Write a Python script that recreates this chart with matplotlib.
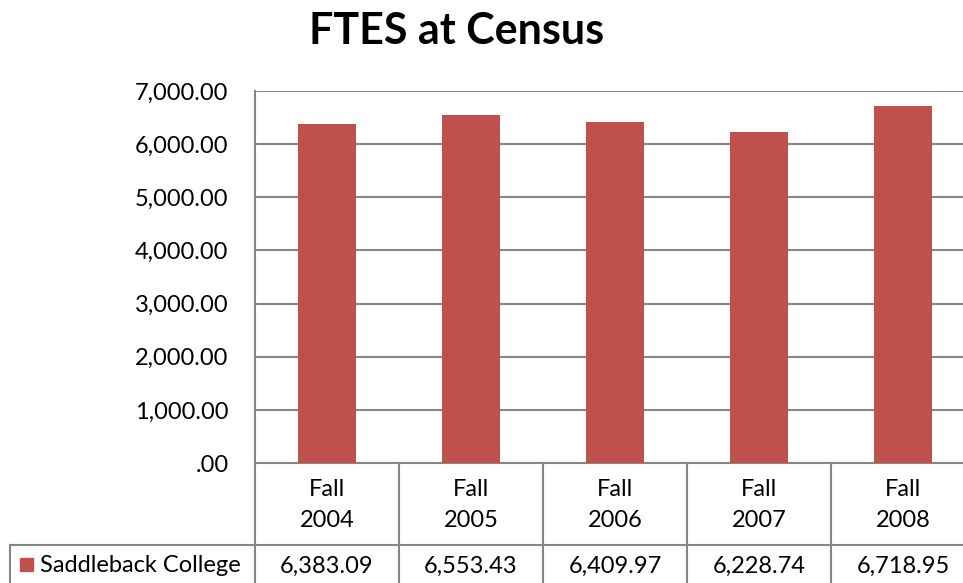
import matplotlib
matplotlib.use('Agg')
from matplotlib import pyplot as plt
from matplotlib.transforms import blended_transform_factory
from matplotlib.patches import Rectangle
import numpy as np

# chart data
categories = ['Fall\n2004', 'Fall\n2005', 'Fall\n2006', 'Fall\n2007', 'Fall\n2008']
series_name = 'Saddleback College'
ftes = [6383.09, 6553.43, 6409.97, 6228.74, 6718.95]
y_ticks = [0, 1000, 2000, 3000, 4000, 5000, 6000, 7000]

bar_color = '#C0504D'
line_color = '#868686'
font = 'Lato'

fig = plt.figure(figsize=(9.63, 5.83), dpi=100)
ax = fig.add_axes([255 / 963, 1 - 463 / 583, 720 / 963, 372 / 583])

x = np.arange(len(categories))
ax.bar(x, ftes, width=0.4, color=bar_color, zorder=3)
ax.set_xlim(-0.5, len(categories) - 0.5)
ax.set_ylim(0, 7000)
ax.set_yticks(y_ticks)
ax.set_yticklabels(['.00' if v == 0 else f'{v:,.2f}' for v in y_ticks],
                   fontsize=17, family=font)
ax.tick_params(axis='y', length=0, pad=19)
ax.set_xticks([])
ax.grid(axis='y', color=line_color, linewidth=1.5, zorder=0)
for side in ['top', 'right', 'bottom']:
    ax.spines[side].set_visible(False)
ax.spines['left'].set_color(line_color)
ax.spines['left'].set_linewidth(1.5)

# data table under the plot
tr = blended_transform_factory(ax.transData, ax.transAxes)
px = 1 / 372  # one pixel in axes fraction (height)
row1 = -82 * px
row_bot = -130 * px
left_cell = -0.5 - 245 / 144
lw = 1.5
ax.plot([-0.5, 4.5], [0, 0], color=line_color, lw=lw, transform=tr, clip_on=False)
ax.plot([left_cell, 4.5], [row1, row1], color=line_color, lw=lw, transform=tr, clip_on=False)
for b in np.arange(-0.5, len(categories) + 0.5):
    ax.plot([b, b], [0, row_bot], color=line_color, lw=lw, transform=tr, clip_on=False)
ax.plot([left_cell, left_cell], [row1, row_bot], color=line_color, lw=lw, transform=tr, clip_on=False)

for i, (cat, val) in enumerate(zip(categories, ftes)):
    ax.text(i, -42 * px, cat, ha='center', va='center', fontsize=17, family=font,
            linespacing=1.6, transform=tr)
    ax.text(i, -103 * px, f'{val:,.2f}', ha='center', va='center', fontsize=17,
            family=font, transform=tr)

ax.add_patch(Rectangle((left_cell + 10 / 144, -108 * px), 13 / 144, 13 * px,
                       color=bar_color, transform=tr, clip_on=False))
ax.text(left_cell + 30 / 144, -103 * px, series_name, ha='left', va='center',
        fontsize=17, family=font, transform=tr)

fig.text(457 / 963, 1 - 31 / 583, 'FTES at Census', ha='center', va='center',
         fontsize=31, fontweight='bold', family=font)

fig.savefig('out.png', dpi=100)
